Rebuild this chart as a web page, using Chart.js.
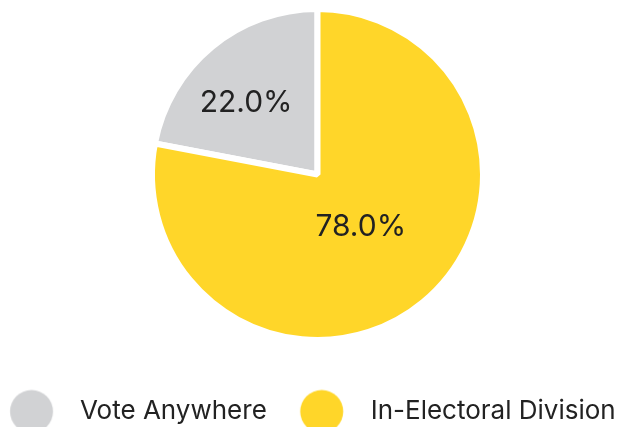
<!DOCTYPE html>
<html><head><meta charset="utf-8">
<script src="https://cdn.jsdelivr.net/npm/chart.js@4.4.1/dist/chart.umd.min.js"></script>
<style>
html,body{margin:0;padding:0;background:#fff;overflow:hidden;width:621px;height:427px;}
#view{position:relative;width:621px;height:427px;overflow:hidden;}
#wrap{position:absolute;top:0;}
</style>
</head><body><div id="view"><div id="wrap"><canvas id="c"></canvas></div></div>
<script>
// ---- data ----
const categories = ['Vote Anywhere', 'In-Electoral Division'];
const values = [22.0, 78.0];
const colors = ['#D1D2D4', '#FFD629'];

// ---- style / layout targets (page coordinates) ----
const W = 621, H = 427;
const M = 60, EXTRA_H = 40;           // canvas is wider/taller than the view, shifted left by M
const WC = W + 2 * M, HC = H + EXTRA_H;
const FONT = 'Inter, "Noto Sans", sans-serif';
const TEXT_COLOR = '#222222';
const LEG_FS = 26, LBL_FS = 30;
const CX = 317.5, CY = 174.5, R_VIS = 162.5, BORDER = 6;
const T1X = 80, T2X = 370.7, C1X = 31.5, C2X = 321.7, LEG_CY = 411.5, DOT_R = 21.5;
const LABEL_K = [0.61, 0.41];
const LABEL_DA = [-5.4, 0];

const wrap = document.getElementById('wrap');
wrap.style.left = (-M) + 'px';
wrap.style.width = WC + 'px';
wrap.style.height = HC + 'px';

const mctx = document.createElement('canvas').getContext('2d');
mctx.font = LEG_FS + 'px ' + FONT;
const TW = categories.map(s => mctx.measureText(s).width);
const h = LEG_FS / 2;
const pad = 2 * CX - TW[0] - TW[1] - 2 * T1X;
const bw = (T2X - T1X - h - TW[0]) - pad;
const lineWidth = 2 * bw + 2 * h + TW[0] + TW[1] + 2 * pad;
const legW = lineWidth + pad + 4;
const padLeft = (CX + M) - legW / 2;
const padRight = WC - ((CX + M) + legW / 2);
let B = 340.5;
let titleH = LEG_CY - B - pad - h;
if (titleH < 0) { titleH = 0; B = LEG_CY - pad - h; }
const legH = titleH + LEG_FS + pad + 10;
const padBottom = HC - B - legH;
const padTop = 2 * CY - B;

function dot(color, d) {
  const c = document.createElement('canvas');
  const w = 2 * Math.ceil(DOT_R + Math.abs(d) + 2);
  const hh = 2 * Math.ceil(DOT_R + 2);
  c.width = w; c.height = hh;
  const g = c.getContext('2d');
  g.fillStyle = color;
  g.beginPath(); g.arc(w / 2 + d, hh / 2, DOT_R, 0, Math.PI * 2); g.fill();
  return c;
}
const dots = [
  dot(colors[0], C1X - T1X + bw / 2 + h),
  dot(colors[1], C2X - T2X + bw / 2 + h)
];

const total = values.reduce((a, b) => a + b, 0);

const sliceLabels = {
  id: 'sliceLabels',
  afterDatasetsDraw(chart) {
    const meta = chart.getDatasetMeta(0);
    const ctx = chart.ctx;
    ctx.save();
    ctx.font = LBL_FS + 'px ' + FONT;
    ctx.fillStyle = TEXT_COLOR;
    ctx.textAlign = 'center';
    ctx.textBaseline = 'middle';
    meta.data.forEach((arc, i) => {
      const p = arc.getProps(['x', 'y', 'startAngle', 'endAngle', 'outerRadius'], true);
      const mid = (p.startAngle + p.endAngle) / 2 + LABEL_DA[i] * Math.PI / 180;
      const r = p.outerRadius * LABEL_K[i];
      ctx.fillText((values[i] / total * 100).toFixed(1) + '%', p.x + Math.cos(mid) * r, p.y + Math.sin(mid) * r);
    });
    ctx.restore();
  }
};

new Chart(document.getElementById('c'), {
  type: 'pie',
  data: {
    labels: categories,
    datasets: [{
      data: values,
      backgroundColor: colors,
      borderColor: '#ffffff',
      borderWidth: BORDER,
      hoverOffset: 0
    }]
  },
  options: {
    responsive: true,
    maintainAspectRatio: false,
    animation: false,
    rotation: -360 * values[0] / total,
    radius: R_VIS + BORDER / 2,
    layout: { padding: { top: padTop, left: padLeft, right: padRight, bottom: padBottom } },
    plugins: {
      tooltip: { enabled: false },
      legend: {
        position: 'bottom',
        align: 'center',
        title: { display: true, text: '', padding: { top: titleH, bottom: 0 }, font: { size: 1, lineHeight: 0 } },
        labels: {
          usePointStyle: true,
          pointStyleWidth: bw,
          padding: pad,
          color: TEXT_COLOR,
          font: { family: FONT, size: LEG_FS },
          generateLabels(chart) {
            const items = Chart.overrides.pie.plugins.legend.labels.generateLabels(chart);
            items.forEach((it, i) => { it.pointStyle = dots[i]; });
            return items;
          }
        }
      }
    }
  },
  plugins: [sliceLabels]
});
</script>
</body></html>
